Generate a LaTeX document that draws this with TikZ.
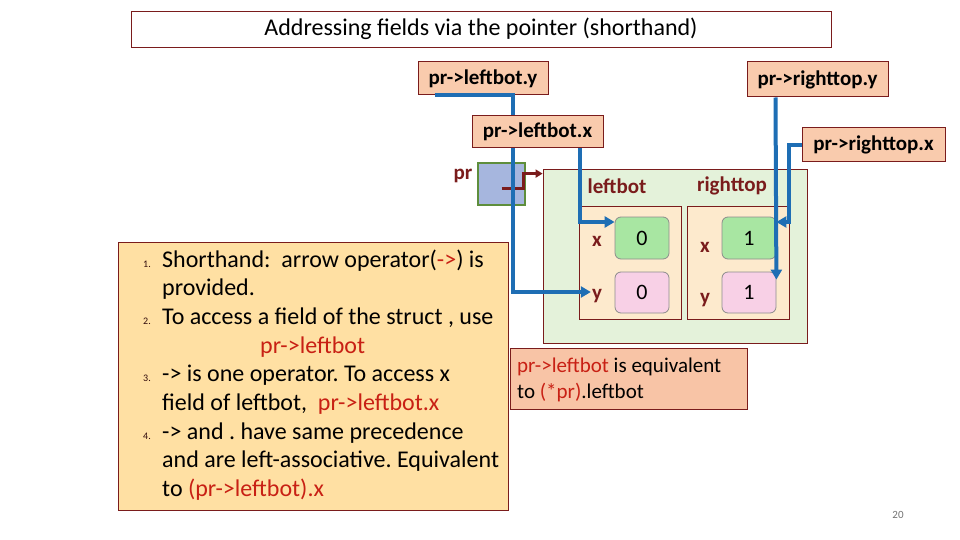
\documentclass[tikz,border=0pt]{standalone}
\usepackage{fontspec}
\setmainfont{Carlito}
\usepackage{xcolor}
\usetikzlibrary{arrows.meta,positioning,calc}
\definecolor{dkred}{RGB}{122,28,28}
\definecolor{txred}{RGB}{200,32,20}
\definecolor{wireblue}{RGB}{30,110,180}
\definecolor{lblfill}{RGB}{249,203,173}
\definecolor{notefill}{RGB}{255,224,163}
\definecolor{eqfill}{RGB}{248,196,166}
\definecolor{structfill}{RGB}{228,242,218}
\definecolor{fieldfill}{RGB}{253,234,205}
\definecolor{valgreen}{RGB}{168,230,162}
\definecolor{valpink}{RGB}{248,208,230}
\definecolor{ptrfill}{RGB}{166,182,222}
\definecolor{ptrline}{RGB}{94,142,60}
\newcommand{\fsz}[2]{\fontsize{#1}{#2}\selectfont}
\frenchspacing

\begin{document}
\begin{tikzpicture}[x=1pt,y=-1pt,
  lbl/.style={draw=dkred,fill=lblfill,line width=1pt,inner sep=0pt,font=\fsz{21}{25}\bfseries},
  fieldbox/.style={draw=dkred,line width=0.8pt,inner sep=0pt},
  valbox/.style={draw=black!45,line width=0.8pt,rounded corners=6pt,inner sep=0pt,
    minimum width=54,font=\fsz{22}{26}},
  fname/.style={text=dkred,font=\fsz{21}{25}\bfseries,inner sep=1pt},
  wire/.style={draw=wireblue,line width=4pt,-{Triangle[length=10pt,width=11pt]}},
  ptr/.style={draw=dkred,line width=3pt,-{Triangle[length=7pt,width=8pt]}},
  lnum/.style={anchor=base west,inner sep=0pt,text=black!60!dkred,font=\fsz{10}{12}},
  ltext/.style={anchor=base west,inner sep=0pt,font=\fsz{24}{29}}]
  \useasboundingbox[fill=white] (0,0) rectangle (960,540);
  % title
  \node[draw=dkred,line width=0.8pt,minimum width=700,minimum height=36,inner sep=0pt,
    font=\fsz{24}{28}] (title) at (481,29) {Addressing fields via the pointer (shorthand)};
  % access labels
  \node[lbl,minimum width=130,minimum height=33] (ly) at (483,78.5) {pr->leftbot.y};
  \node[lbl,minimum width=141,minimum height=35] (ry) at (817.5,79.5) {pr->righttop.y};
  \node[lbl,minimum width=143,minimum height=34] (rx) at (873.5,145) {pr->righttop.x};
  % notes
  \node[draw=dkred,fill=notefill,line width=1pt,minimum width=390,minimum height=268] (note) at (313,376) {};
  \foreach \n/\t in {0/{Shorthand:\ \ arrow operator(\textcolor{txred}{->}) is},
      1/{provided.},
      2/{To access a field of the struct , use},
      3/{\hspace*{98pt}\textcolor{txred}{pr->leftbot}},
      4/{-> is one operator. To access x},
      5/{field of leftbot,~ \textcolor{txred}{pr->leftbot.x}},
      6/{-> and . have same precedence},
      7/{and are left-associative. Equivalent},
      8/{to \textcolor{txred}{(pr->leftbot).x}}}
    \node[ltext] (ln\n) at (162,267+28.7*\n) {\t};
  \foreach \n/\k in {1/0,2/2,3/4,4/6}
    \node[lnum] (num\n) at (143,267+28.7*\k) {\n.};
  \node[draw=dkred,fill=eqfill,line width=1pt,minimum width=237,minimum height=61] (eq) at (628.5,378.5) {};
  \node[anchor=base west,inner sep=0pt,font=\fsz{21}{25}] (eq1) at (517,372)
    {\textcolor{txred}{pr->leftbot} is equivalent};
  \node[anchor=base west,inner sep=0pt,font=\fsz{21}{25}] (eq2) at (517,398)
    {to \textcolor{txred}{(*pr)}.leftbot};
  % struct rect
  \node[fieldbox,fill=structfill,minimum width=264,minimum height=174] (st) at (675,256) {};
  \node[fieldbox,fill=fieldfill,minimum width=102,minimum height=113] (lb) at (630,262.5) {};
  \node[fieldbox,fill=fieldfill,minimum width=102,minimum height=113] (rt) at (738,262.5) {};
  \node[fname] (lbn) at (617,186) {leftbot};
  \node[fname] (rtn) at (732,186) {righttop};
  \node[valbox,fill=valgreen,minimum height=42] (v1) at (642,238) {0};
  \node[valbox,fill=valpink,minimum height=41] (v2) at (642,292.5) {0};
  \node[valbox,fill=valgreen,minimum height=42] (v3) at (749,238) {1};
  \node[valbox,fill=valpink,minimum height=41] (v4) at (749,292.5) {1};
  \node[fname] (ax) at (597,241) {x};
  \node[fname] (ay) at (597,296) {y};
  \node[fname] (bx) at (705,247) {x};
  \node[fname] (by) at (705,300) {y};
  % pointer variable
  \node[draw=ptrline,fill=ptrfill,line width=2.5pt,minimum width=47,minimum height=42,inner sep=0pt] (pr) at (501.5,184) {};
  \node[fname] (prl) at (463,176) {pr};
  \draw[ptr] ([yshift=-4pt]pr.center) -- ++(22,0) |- ([yshift=-5pt]st.north west);
  % wires
  \draw[wire] ([xshift=17pt]ly.south west) -- ++(78,0) |- ([yshift=4pt]ay.west);
  \node[lbl,minimum width=131,minimum height=32] (lx) at (537.5,132) {pr->leftbot.x};
  \draw[wire] ([xshift=-24pt]lx.south east) |- ([yshift=16pt]v1.west);
  \draw[wire] ([xshift=29pt]ry.south west) -- ([yshift=-8pt]v4.north east);
  \draw[wire] (rx.west) -| ++(-13,77) -- ([yshift=16pt]v3.east);
  \node[text=black!55,font=\fsz{11}{13}] (page) at (898,515) {20};
\end{tikzpicture}
\end{document}
